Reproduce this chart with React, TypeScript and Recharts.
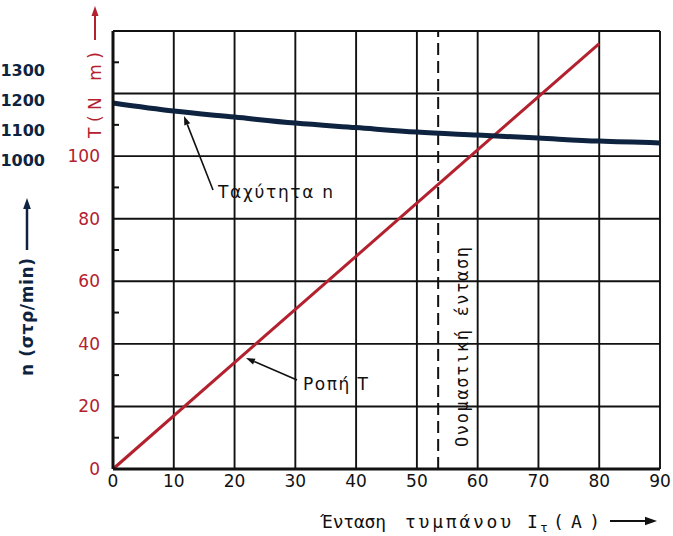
import {
  ComposedChart,
  Line,
  XAxis,
  YAxis,
  CartesianGrid,
  ReferenceLine,
} from "recharts";

// armature current (A) where speed was read
const currentPoints = [0, 10, 20, 30, 40, 50, 60, 70, 80, 90];
// speed n (rpm)
const speedValues = [1190, 1163, 1143, 1123, 1108, 1093, 1083, 1073, 1063, 1057];
// torque T (N m) – straight line through origin
const torqueCurrent = [0, 80];
const torqueValues = [0, 136];

const xTicks = [0, 10, 20, 30, 40, 50, 60, 70, 80, 90];
const torqueTicks = [0, 10, 20, 30, 40, 50, 60, 70, 80, 90, 100, 110, 120, 130, 140];
const torqueLabels = [0, 20, 40, 60, 80, 100];
const torqueGrid = [20, 40, 60, 80, 100, 120, 140];
const speedTicks = [1000, 1100, 1200, 1300];
const ratedCurrent = 53.5;

const speedData = currentPoints.map((I, i) => ({ I, n: speedValues[i] }));
const torqueData = torqueCurrent.map((I, i) => ({ I, T: torqueValues[i] }));

const RED = "#b3202e";
const NAVY = "#0e2340";
const INK = "#111";
const FONT = "DejaVu Sans";
const MONO = "DejaVu Sans Mono";

function TorqueTick(props: any) {
  const { x, y, payload } = props;
  const v = payload.value;
  if (torqueLabels.includes(v)) {
    return (
      <text x={x - 13} y={y} dy={6} textAnchor="end" fill={RED} fontSize={17} fontFamily={FONT}>
        {v}
      </text>
    );
  }
  if (v % 20 === 10) {
    return <line x1={x} x2={x + 6} y1={y} y2={y} stroke={INK} strokeWidth={2} />;
  }
  return null;
}

function SpeedTick(props: any) {
  const { x, y, payload } = props;
  return (
    <text x={x - 10} y={y} dy={6} textAnchor="end" fill={NAVY} fontSize={16} fontWeight="bold" fontFamily={FONT}>
      {payload.value}
    </text>
  );
}

function XTick(props: any) {
  const { x, y, payload } = props;
  return (
    <text x={x} y={y} dy={14} textAnchor="middle" fill={INK} fontSize={17} fontFamily={FONT}>
      {payload.value}
    </text>
  );
}

function Arrow({ x1, y1, x2, y2, color, w = 2, head = 9 }: any) {
  const a = Math.atan2(y2 - y1, x2 - x1);
  const hx = x2 - head * Math.cos(a);
  const hy = y2 - head * Math.sin(a);
  const px = Math.sin(a) * head * 0.35;
  const py = -Math.cos(a) * head * 0.35;
  return (
    <g>
      <line x1={x1} y1={y1} x2={hx} y2={hy} stroke={color} strokeWidth={w} />
      <polygon points={`${x2},${y2} ${hx + px},${hy + py} ${hx - px},${hy - py}`} fill={color} />
    </g>
  );
}

export default function App() {
  return (
    <div style={{ position: "absolute", left: 0, top: 0, width: 673, height: 536, background: "#fff" }}>
      <ComposedChart
        width={673}
        height={536}
        margin={{ top: 31, right: 13, left: 0, bottom: 0 }}
      >
        <CartesianGrid
          yAxisId="T"
          stroke={INK}
          strokeWidth={1.9}
          horizontalValues={torqueGrid}
          verticalValues={xTicks}
        />
        <XAxis
          type="number"
          dataKey="I"
          domain={[0, 90]}
          ticks={xTicks}
          height={67}
          tick={<XTick />}
          tickSize={0}
          tickMargin={4}
          axisLine={{ stroke: INK, strokeWidth: 3 }}
          tickLine={false}
          allowDuplicatedCategory={false}
        />
        <YAxis
          yAxisId="T"
          orientation="left"
          domain={[0, 140]}
          ticks={torqueTicks}
          width={58}
          tickSize={0}
          tickMargin={0}
          tickLine={false}
          tick={<TorqueTick />}
          axisLine={{ stroke: INK, strokeWidth: 3 }}
          interval={0}
        />
        <YAxis
          yAxisId="n"
          orientation="left"
          domain={[-30, 1430]}
          ticks={speedTicks}
          width={55}
          tickSize={0}
          tickMargin={0}
          tickLine={false}
          axisLine={false}
          tick={<SpeedTick />}
          interval={0}
        />
        <ReferenceLine
          yAxisId="T"
          x={ratedCurrent}
          stroke={INK}
          strokeWidth={2}
          strokeDasharray="12 6"
        />
        <Line
          yAxisId="T"
          data={torqueData}
          dataKey="T"
          type="linear"
          stroke={RED}
          strokeWidth={3}
          dot={false}
          isAnimationActive={false}
        />
        <Line
          yAxisId="n"
          data={speedData}
          dataKey="n"
          type="monotone"
          stroke={NAVY}
          strokeWidth={5}
          dot={false}
          isAnimationActive={false}
        />
      </ComposedChart>

      <svg
        width={673}
        height={536}
        style={{ position: "absolute", left: 0, top: 0, pointerEvents: "none" }}
      >
        {/* torque axis title */}
        <text
          transform="translate(101,138) rotate(-90)"
          fill={RED}
          fontSize={17}
          fontFamily={FONT}
          textLength={86}
          lengthAdjust="spacing"
        >
          T(N m)
        </text>
        <Arrow x1={95} y1={40} x2={95} y2={6} color={RED} w={2} head={10} />

        {/* speed axis title */}
        <text
          transform="translate(33,376) rotate(-90)"
          fill={NAVY}
          fontSize={17}
          fontFamily={FONT}
          fontWeight="bold"
          textLength={118}
          lengthAdjust="spacing"
        >
          n (στρ/min)
        </text>
        <Arrow x1={27} y1={250} x2={27} y2={198} color={NAVY} w={2.5} head={11} />

        {/* curve labels */}
        <text x={218} y={198} fill={INK} fontSize={17} fontFamily={FONT} textLength={115} lengthAdjust="spacing">
          Ταχύτητα n
        </text>
        <Arrow x1={213} y1={190} x2={184} y2={116} color={INK} w={1.6} head={9} />

        <text x={303} y={390} fill={INK} fontSize={17} fontFamily={FONT} textLength={65} lengthAdjust="spacing">
          Ροπή T
        </text>
        <Arrow x1={297} y1={380} x2={246} y2={358} color={INK} w={1.6} head={9} />

        {/* rated current label */}
        <text
          transform="translate(468,447) rotate(-90)"
          fill={INK}
          fontSize={17}
          fontFamily={MONO}
          textLength={200}
          lengthAdjust="spacing"
        >
          Ονομαστική ένταση
        </text>

        {/* x axis title */}
        <g fill={INK} fontSize={18} fontFamily={MONO}>
          <text x={322} y={528} textLength={64} lengthAdjust="spacing">Ένταση</text>
          <text x={405} y={528} textLength={106} lengthAdjust="spacing">τυμπάνου</text>
          <text x={527} y={528}>I</text>
          <text x={540} y={532} fontSize={13}>τ</text>
          <text x={553} y={528} textLength={47} lengthAdjust="spacing">(A)</text>
        </g>
        <Arrow x1={610} y1={521} x2={657} y2={521} color={INK} w={2} head={12} />
      </svg>
    </div>
  );
}
